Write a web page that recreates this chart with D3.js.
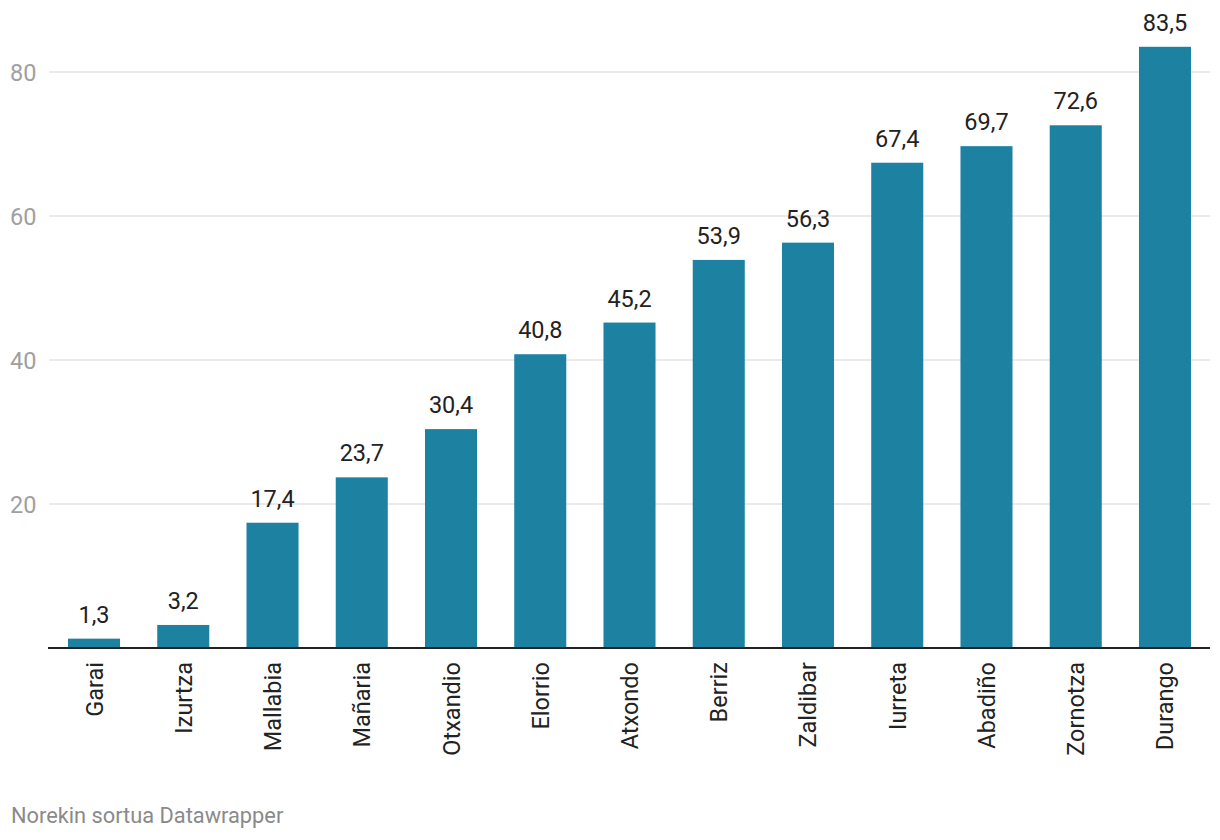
<!DOCTYPE html>
<html><head><meta charset="utf-8">
<script src="https://cdn.jsdelivr.net/npm/d3@7"></script>
<style>body{margin:0;background:#fff;font-family:Roboto,sans-serif}</style>
</head><body>
<svg id="c" width="1220" height="840"></svg>
<script>
const categories = ["Garai","Izurtza","Mallabia","Mañaria","Otxandio","Elorrio","Atxondo","Berriz","Zaldibar","Iurreta","Abadiño","Zornotza","Durango"];
const values = [1.3,3.2,17.4,23.7,30.4,40.8,45.2,53.9,56.3,67.4,69.7,72.6,83.5];
const yTicks = [20,40,60,80];

const svg = d3.select("#c");
const y = d3.scaleLinear().domain([0,80]).range([648,72]);
const x = d3.scaleBand().domain(categories).range([49.4,1209.6]).paddingInner(0.417).paddingOuter(0.2085);
const fmt = v => d3.format(".1f")(v).replace(".", ",");

const grid = svg.append("g");
yTicks.forEach(t => {
  grid.append("line").attr("x1",49).attr("x2",1210).attr("y1",y(t)).attr("y2",y(t))
    .attr("stroke","#e3e3e3").attr("stroke-width",1.5);
  grid.append("text").attr("x",10).attr("y",y(t)+8.5).text(t)
    .attr("font-size",23.5).attr("fill","#a0a0a0");
});

svg.append("g").selectAll("rect").data(values).join("rect")
  .attr("x",(d,i)=>x(categories[i])).attr("width",x.bandwidth())
  .attr("y",d=>y(d)).attr("height",d=>y(0)-y(d)).attr("fill","#1d81a2");

svg.append("g").selectAll("text").data(values).join("text")
  .attr("x",(d,i)=>x(categories[i])+x.bandwidth()/2).attr("y",d=>y(d)-16)
  .attr("text-anchor","middle").attr("font-size",23.5).attr("fill","#222").text(fmt);

svg.append("line").attr("x1",48).attr("x2",1210).attr("y1",648).attr("y2",648)
  .attr("stroke","#222").attr("stroke-width",2);

svg.append("g").selectAll("text").data(categories).join("text")
  .attr("transform",d=>`translate(${x(d)+x.bandwidth()/2+8.5},662) rotate(-90)`)
  .attr("text-anchor","end").attr("font-size",23.5).attr("fill","#222").text(d=>d);

svg.append("text").attr("x",11).attr("y",823).attr("font-size",21.8).attr("fill","#8a8a8a")
  .text("Norekin sortua Datawrapper");
</script>
</body></html>
